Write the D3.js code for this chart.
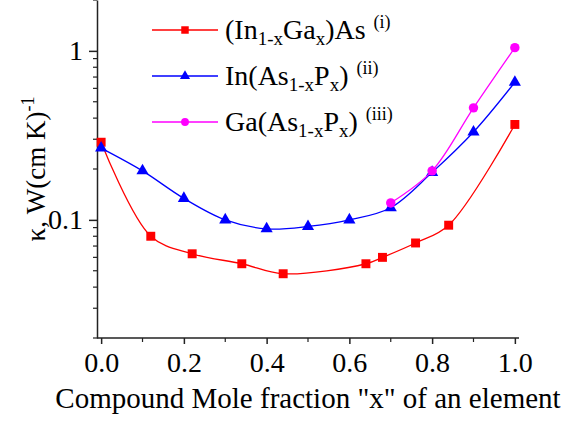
<!DOCTYPE html>
<html>
<head>
<meta charset="utf-8">
<script src="https://cdn.jsdelivr.net/npm/d3@7"></script>
</head>
<body style="margin:0">
<div class="chart"></div>
<script>
// (In1-xGax)As  (i)
const xInGaAs = [0, 0.12, 0.22, 0.34, 0.44, 0.64, 0.68, 0.76, 0.84, 1.0];
const kInGaAs = [0.288, 0.080, 0.063, 0.055, 0.048, 0.055, 0.060, 0.073, 0.093, 0.367];

// In(As1-xPx)  (ii)
const xInAsP = [0, 0.1, 0.2, 0.3, 0.4, 0.5, 0.6, 0.7, 0.8, 0.9, 1.0];
const kInAsP = [0.266, 0.195, 0.134, 0.100, 0.0885, 0.0914, 0.100, 0.118, 0.191, 0.331, 0.652];

// Ga(As1-xPx)  (iii)
const xGaAsP = [0.7, 0.8, 0.9, 1.0];
const kGaAsP = [0.126, 0.195, 0.46, 1.045];

const xTicks = [0, 0.2, 0.4, 0.6, 0.8, 1.0];
const xMinorTicks = [0.1, 0.3, 0.5, 0.7, 0.9];
const yTicks = [0.1, 1];

const width = 576;
const height = 423;
const plotLeft = 97, plotRight = 519, plotTop = 0, plotBottom = 338;
const serif = "'Liberation Serif'";

const svg = d3.select('.chart')
  .append('svg')
  .attr('width', width)
  .attr('height', height);

const xScale = d3.scaleLinear()
  .domain([-0.01, 1.01])
  .range([plotLeft, plotRight]);

const yScale = d3.scaleLog()
  .domain([0.02, 2])
  .range([plotBottom, plotTop]);

// minor log ticks: 2..9 of each decade inside the domain
const yMinorTicks = [];
[0.01, 0.1, 1].forEach(dec => {
  for (let m = 2; m <= 9; m++) {
    const v = +(dec * m).toPrecision(3);
    if (v >= 0.02 && v <= 2) yMinorTicks.push(v);
  }
});

const axisColor = '#222';

// X Axis
const xAxis = svg.append('g')
  .attr('transform', `translate(0, ${plotBottom})`)
  .call(d3.axisBottom(xScale).tickValues(xTicks).tickFormat(d3.format('.1f')).tickSizeInner(6).tickSizeOuter(0).tickPadding(8));
xAxis.select('.domain').attr('stroke', axisColor).attr('stroke-width', 1.5).attr('d', `M${plotLeft},0H${plotRight}`);
xAxis.selectAll('.tick line').attr('stroke', axisColor).attr('stroke-width', 1.5);
xAxis.selectAll('text').attr('fill', '#000').attr('font-family', serif).attr('font-size', 28);

svg.append('g')
  .attr('transform', `translate(0, ${plotBottom})`)
  .selectAll('line')
  .data(xMinorTicks)
  .join('line')
  .attr('x1', d => xScale(d)).attr('x2', d => xScale(d))
  .attr('y1', 0).attr('y2', 4)
  .attr('stroke', axisColor).attr('stroke-width', 1.2);

// Y Axis
const yAxis = svg.append('g')
  .attr('transform', `translate(${plotLeft}, 0)`)
  .call(d3.axisLeft(yScale).tickValues(yTicks).tickFormat(d => d === 1 ? '1' : '0.1').tickSizeInner(8).tickSizeOuter(0).tickPadding(6));
yAxis.select('.domain').attr('stroke', axisColor).attr('stroke-width', 1.5);
yAxis.selectAll('.tick line').attr('stroke', axisColor).attr('stroke-width', 1.5);
yAxis.selectAll('text').attr('fill', '#000').attr('font-family', serif).attr('font-size', 28);

svg.append('g')
  .attr('transform', `translate(${plotLeft}, 0)`)
  .selectAll('line')
  .data(yMinorTicks)
  .join('line')
  .attr('x1', -4).attr('x2', 0)
  .attr('y1', d => yScale(d)).attr('y2', d => yScale(d))
  .attr('stroke', axisColor).attr('stroke-width', 1.2);

// axis titles
svg.append('text')
  .attr('x', (plotLeft + plotRight) / 2)
  .attr('y', 408)
  .attr('text-anchor', 'middle')
  .attr('font-family', serif)
  .attr('font-size', 29)
  .text('Compound Mole fraction "x" of an element');

const yTitle = svg.append('text')
  .attr('transform', `translate(45, ${(plotTop + plotBottom) / 2}) rotate(-90)`)
  .attr('text-anchor', 'middle')
  .attr('font-family', serif)
  .attr('font-size', 27);
yTitle.append('tspan').text('κ, W(cm K)');
yTitle.append('tspan').attr('dy', -11).attr('font-size', 18).text('-1');

// series
const series = [
  { xs: xInGaAs, ys: kInGaAs, color: '#ff0000', symbol: d3.symbolSquare, size: 80 },
  { xs: xInAsP, ys: kInAsP, color: '#0000ff', symbol: d3.symbolTriangle, size: 64 },
  { xs: xGaAsP, ys: kGaAsP, color: '#ff00ff', symbol: d3.symbolCircle, size: 70 }
];

const lineGenerator = d3.line()
  .x(d => xScale(d[0]))
  .y(d => yScale(d[1]))
  .curve(d3.curveCatmullRom.alpha(0.5));

series.forEach(s => {
  const data = s.xs.map((x, i) => [x, s.ys[i]]);
  svg.append('path')
    .attr('fill', 'none')
    .attr('stroke', s.color)
    .attr('stroke-width', 1.3)
    .attr('d', lineGenerator(data));
  svg.append('g')
    .selectAll('path')
    .data(data)
    .join('path')
    .attr('transform', d => `translate(${xScale(d[0])}, ${yScale(d[1])})`)
    .attr('d', d3.symbol().type(s.symbol).size(s.size))
    .attr('fill', s.color);
});

// legend
const legendRows = [
  { y: 30, sup: '(i)', parts: [['(In', 0], ['1-x', 1], ['Ga', 0], ['x', 1], [')As', 0]] },
  { y: 76, sup: '(ii)', parts: [['In(As', 0], ['1-x', 1], ['P', 0], ['x', 1], [')', 0]] },
  { y: 122, sup: '(iii)', parts: [['Ga(As', 0], ['1-x', 1], ['P', 0], ['x', 1], [')', 0]] }
];

legendRows.forEach((row, i) => {
  const s = series[i];
  svg.append('line')
    .attr('x1', 152).attr('x2', 218)
    .attr('y1', row.y).attr('y2', row.y)
    .attr('stroke', s.color).attr('stroke-width', 1.3);
  svg.append('path')
    .attr('transform', `translate(185, ${row.y})`)
    .attr('d', d3.symbol().type(s.symbol).size(s.size * 0.7))
    .attr('fill', s.color);
  const t = svg.append('text')
    .attr('x', 225)
    .attr('y', row.y + 9)
    .attr('font-family', serif)
    .attr('font-size', 28);
  let shift = 0;
  row.parts.forEach(([str, sub]) => {
    const want = sub ? 6 : 0;
    t.append('tspan')
      .attr('dy', want - shift)
      .attr('font-size', sub ? 19 : 28)
      .text(str);
    shift = want;
  });
  t.append('tspan')
    .attr('dy', -11 - shift)
    .attr('dx', 8)
    .attr('font-size', 18)
    .text(row.sup);
});
</script>
</body>
</html>
